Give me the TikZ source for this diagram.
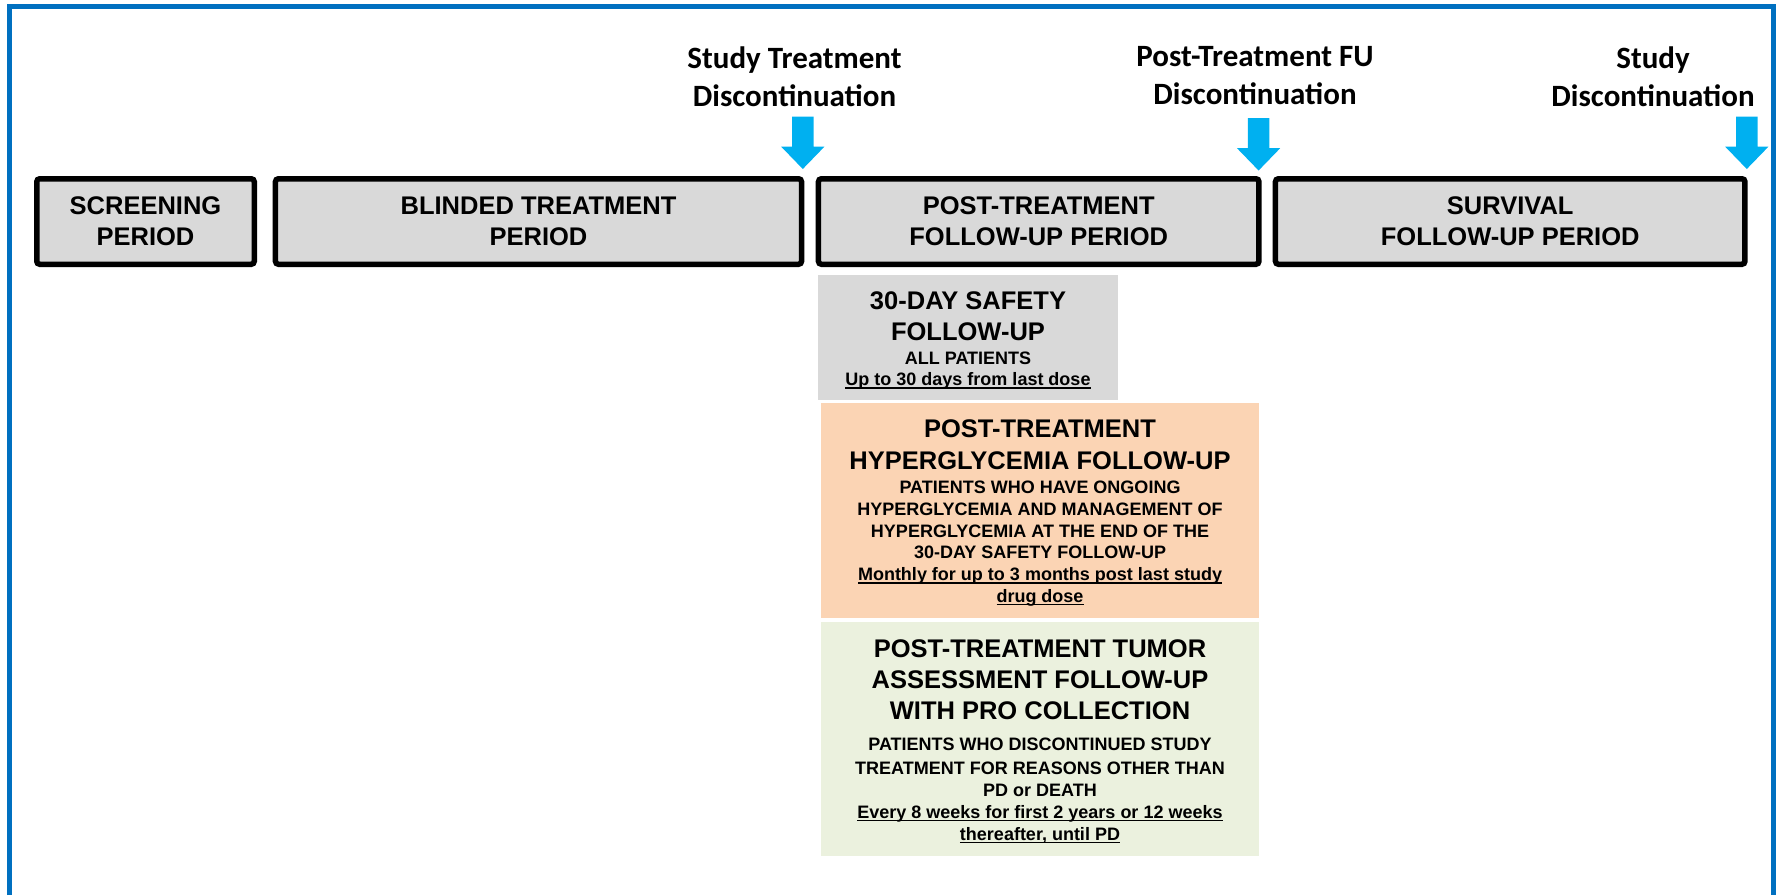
\documentclass[tikz,border=0pt]{standalone}
\usepackage{fontspec}
\setmainfont{Liberation Sans}
\newfontfamily\calfont{Carlito}
\definecolor{frameblue}{HTML}{0070C0}
\definecolor{arrowcyan}{HTML}{00B0F0}
\definecolor{boxgray}{HTML}{D9D9D9}
\definecolor{peach}{HTML}{FBD4B4}
\definecolor{palegreen}{HTML}{EBF1DE}
\newcommand{\ulx}[1]{\setbox0\hbox{#1}\rlap{\rule[-3pt]{\wd0}{1.4pt}}\box0}
\begin{document}
\begin{tikzpicture}[x=1pt,y=-1pt,
  frame/.style={draw=frameblue, line width=5.3pt, line join=miter},
  period/.style={draw=black, line width=5.5pt, fill=boxgray, rounded corners=3pt,
    inner sep=0pt, align=center, font=\bfseries\fontsize{25.5}{31}\selectfont},
  lbl/.style={align=center, inner sep=0pt, font=\calfont\bfseries\fontsize{31}{38}\selectfont},
  subbox/.style={inner sep=0pt, draw=none},
  head/.style={align=center, inner sep=0pt, font=\bfseries\fontsize{25.5}{31}\selectfont},
  body/.style={align=center, inner sep=0pt, font=\bfseries\fontsize{18}{21.8}\selectfont},
  blockarrow/.style={fill=arrowcyan}
]
\useasboundingbox (0,0) rectangle (1781,895);
\draw[frame] (9.3,895) -- (9.3,6.5) -- (1773.5,6.5) -- (1773.5,895);

% period boxes
\node[period, minimum width=217.5pt, minimum height=85.5pt] (scr) at (145.5,221.5) {SCREENING\\PERIOD};
\node[period, minimum width=526.1pt, minimum height=85.5pt] (bld) at (538.5,221.5) {BLINDED TREATMENT\\PERIOD};
\node[period, minimum width=440.5pt, minimum height=85.5pt] (ptf) at (1038.7,221.5) {POST-TREATMENT\\FOLLOW-UP PERIOD};
\node[period, minimum width=469.5pt, minimum height=85.5pt] (srv) at (1510.2,221.5) {SURVIVAL\\FOLLOW-UP PERIOD};

% milestone labels (base = baseline of last line)
\node[lbl, anchor=base] (l1) at (794.5,106) {Study Treatment\\Discontinuation};
\node[lbl, anchor=base] (l2) at (1255,104) {Post-Treatment FU\\Discontinuation};
\node[lbl, anchor=base] (l3) at (1653,106) {Study\\Discontinuation};

% arrows
\coordinate (t1) at (802.8,169);
\coordinate (t2) at (1258.6,170.5);
\coordinate (t3) at (1746.8,169);
\foreach \t in {t1,t2,t3}{
  \fill[blockarrow, shift={(\t)}] (0,0) -- (-21.6,-22.3) -- (-10.7,-22.3) -- (-10.7,-52.3)
    -- (10.7,-52.3) -- (10.7,-22.3) -- (21.6,-22.3) -- cycle;
}

% sub boxes
\node[subbox, fill=boxgray, minimum width=300pt, minimum height=125pt] (safe) at (968,337.5) {};
\node[head, anchor=base] (safeH) at (968,340.2) {30-DAY SAFETY\\FOLLOW-UP};
\node[body, anchor=base, font=\bfseries\fontsize{18}{21.2}\selectfont] (safeB) at (968,385.6) {ALL PATIENTS\\\ulx{Up to 30 days from last dose}};

\node[subbox, fill=peach, minimum width=438pt, minimum height=215pt] (hyp) at (1040,510.5) {};
\node[head, anchor=base, font=\bfseries\fontsize{25.5}{32}\selectfont] (hypH) at (1040,469) {POST-TREATMENT\\HYPERGLYCEMIA FOLLOW-UP};
\node[body, anchor=base] (hypB) at (1040,602.4) {PATIENTS WHO HAVE ONGOING\\HYPERGLYCEMIA AND MANAGEMENT OF\\HYPERGLYCEMIA AT THE END OF THE\\30-DAY SAFETY FOLLOW-UP\\\ulx{Monthly for up to 3 months post last study}\\\ulx{drug dose}};

\node[subbox, fill=palegreen, minimum width=438pt, minimum height=234pt] (tum) at (1040,739) {};
\node[head, anchor=base] (tumH) at (1040,719) {POST-TREATMENT TUMOR\\ASSESSMENT FOLLOW-UP\\WITH PRO COLLECTION};
\node[body, anchor=base, font=\bfseries\fontsize{18}{22}\selectfont] (tumB) at (1040,840.1) {PATIENTS WHO DISCONTINUED STUDY\\[1.7pt]TREATMENT FOR REASONS OTHER THAN\\PD or DEATH\\\ulx{Every 8 weeks for first 2 years or 12 weeks}\\\ulx{thereafter, until PD}};
\end{tikzpicture}
\end{document}
